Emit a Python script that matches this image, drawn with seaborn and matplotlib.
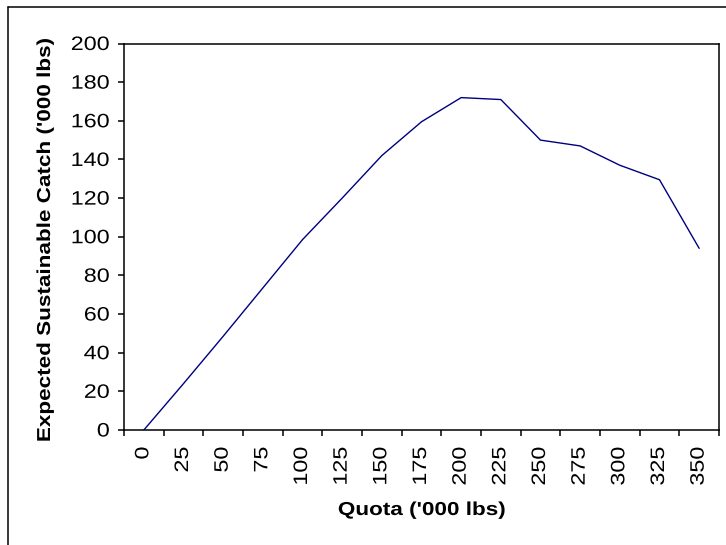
import matplotlib
matplotlib.use("Agg")
import matplotlib.pyplot as plt
import seaborn as sns
import pandas as pd
from matplotlib.patheffects import AbstractPathEffect
from matplotlib.transforms import Affine2D
from matplotlib.ticker import NullFormatter, FixedLocator
from matplotlib.lines import Line2D

# ---- data ----
quota = [0, 25, 50, 75, 100, 125, 150, 175, 200, 225, 250, 275, 300, 325, 350]
catch = [0, 24, 48.5, 73.5, 98.5, 120, 142, 159.5, 172, 171, 150, 147, 137, 129.5, 94]
x_tick_labels = [str(q) for q in quota]
y_ticks = [0, 20, 40, 60, 80, 100, 120, 140, 160, 180, 200]
x_label = "Quota ('000 lbs)"
y_label = "Expected Sustainable Catch ('000 lbs)"

df = pd.DataFrame({"quota": quota, "catch": catch})

sns.set_style("ticks")
plt.rcParams["font.family"] = ["Liberation Sans", "DejaVu Sans"]


class Widen(AbstractPathEffect):
    """Stretch text glyphs along their own writing direction (text stays a Text artist)."""

    def __init__(self, factor=1.2, anchor="center"):
        super().__init__()
        self.factor = factor
        self.anchor = anchor

    def draw_path(self, renderer, gc, tpath, affine, rgbFace=None):
        ext = tpath.get_extents()
        if self.anchor == "right":
            px = ext.x1
        elif self.anchor == "left":
            px = ext.x0
        else:
            px = 0.5 * (ext.x0 + ext.x1)
        t = Affine2D().translate(-px, 0).scale(self.factor, 1.0).translate(px, 0) + affine
        renderer.draw_path(gc, tpath, t, rgbFace)


W, H = 726, 545
fig = plt.figure(figsize=(W / 100, H / 100), dpi=100)
fig.patch.set_facecolor("white")

ax_l, ax_r, ax_t, ax_b = 124, 719, 43.5, 430
ax = fig.add_axes([ax_l / W, (H - ax_b) / H, (ax_r - ax_l) / W, (ax_b - ax_t) / H])
ax.set_facecolor("white")

sns.lineplot(data=df, x="quota", y="catch", color="#000080", linewidth=1.0,
             estimator=None, ax=ax, legend=False)

ax.set_xlim(-12.5, 362.5)
ax.set_ylim(0, 200)

# category-axis style: tick marks between categories, labels at category centres
ax.xaxis.set_major_locator(FixedLocator([q - 12.5 for q in quota] + [quota[-1] + 12.5]))
ax.xaxis.set_major_formatter(NullFormatter())
ax.set_xticks(quota, labels=x_tick_labels, minor=True)
ax.set_yticks(y_ticks)

for s in ax.spines.values():
    s.set_visible(True)
    s.set_color("black")
    s.set_linewidth(1.1)

ax.tick_params(axis="x", which="major", direction="out", length=4.0, width=1.1, color="black")
ax.tick_params(axis="x", which="minor", length=0, pad=12, labelsize=14, labelrotation=90,
               labelcolor="black")
ax.tick_params(axis="y", which="major", direction="out", length=4.3, width=1.1, pad=6,
               labelsize=14, labelcolor="black", color="black")
ax.grid(False)

ax.set_xlabel(x_label, fontsize=13.5, fontweight="bold", color="black")
ax.set_ylabel(y_label, fontsize=13.5, fontweight="bold", color="black")
ax.xaxis.set_label_coords(0.5, (ax_b - 515) / (ax_b - ax_t))
ax.xaxis.label.set_va("baseline")
ax.yaxis.set_label_coords((50 - ax_l) / (ax_r - ax_l), 0.49)
ax.yaxis.label.set_rotation_mode("anchor")
ax.yaxis.label.set_va("baseline")
ax.yaxis.label.set_ha("center")

# outer chart-area frame (only top and left edges fall inside the image)
fx, fy = 8 / W, (H - 7) / H
fig.add_artist(Line2D([fx, fx], [-0.01, fy], transform=fig.transFigure, color="black", lw=1.1))
fig.add_artist(Line2D([fx, 1.01], [fy, fy], transform=fig.transFigure, color="black", lw=1.1))

# first draw creates the tick label artists, then widen the text like the reference
fig.canvas.draw()
for lab in ax.get_yticklabels():
    lab.set_path_effects([Widen(1.2, "right")])
for lab in ax.get_xticklabels(minor=True):
    lab.set_path_effects([Widen(1.2, "right")])
ax.xaxis.label.set_path_effects([Widen(1.2, "center")])
ax.yaxis.label.set_path_effects([Widen(1.2, "center")])

fig.savefig("out.png", dpi=100, facecolor="white")
